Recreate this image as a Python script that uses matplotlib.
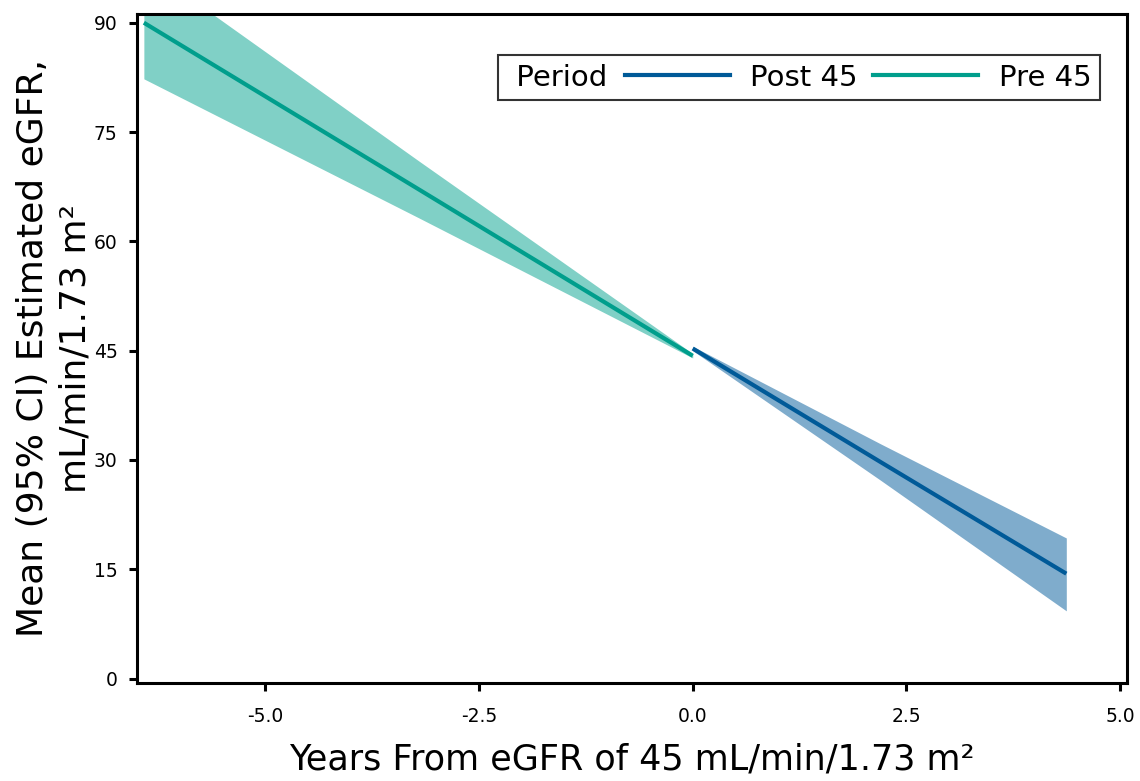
import numpy as np
import matplotlib.pyplot as plt
from matplotlib.lines import Line2D
from matplotlib.offsetbox import HPacker

# Pre 45 period (years before eGFR 45)
pre_x = [-6.42, -3.2, 0.0]
pre_mean = [90.0, 67.1, 44.3]
pre_lo = [82.3, 63.2, 44.0]
pre_hi = [97.9, 71.0, 44.6]

# Post 45 period
post_x = [0.0, 2.2, 4.37]
post_mean = [45.3, 29.7, 14.4]
post_lo = [45.0, 27.2, 9.3]
post_hi = [45.6, 32.2, 19.3]

xticks = [-5.0, -2.5, 0.0, 2.5, 5.0]
yticks = [0, 15, 30, 45, 60, 75, 90]

pre_color = '#009e8c'
pre_fill = '#80d0c6'
post_color = '#005a98'
post_fill = '#7faccc'

fig = plt.figure(figsize=(11.4, 7.81), dpi=100)
ax = fig.add_axes([0.1202, 0.1255, 0.8684, 0.8566])

ax.fill_between(pre_x, pre_lo, pre_hi, color=pre_fill, lw=0)
ax.fill_between(post_x, post_lo, post_hi, color=post_fill, lw=0)
ax.plot(pre_x, pre_mean, color=pre_color, lw=3.0, solid_capstyle='butt')
ax.plot(post_x, post_mean, color=post_color, lw=3.0, solid_capstyle='butt')

ax.set_xlim(-6.5, 5.08)
ax.set_ylim(-0.6, 91.2)
ax.set_xticks(xticks)
ax.set_xticklabels(['%.1f' % t for t in xticks])
ax.set_yticks(yticks)
ax.tick_params(labelsize=13.5, width=2.2, length=6)
ax.tick_params(axis='x', pad=11)
ax.tick_params(axis='y', pad=8)
for s in ax.spines.values():
    s.set_linewidth(2.2)

ax.set_xlabel('Years From eGFR of 45 mL/min/1.73 m²', fontsize=25.2, labelpad=12)
ax.set_ylabel('Mean (95% CI) Estimated eGFR,\nmL/min/1.73 m²', fontsize=26,
              labelpad=1, linespacing=1.3)

fs = 21
handles = [Line2D([], [], color=post_color, lw=3.0),
           Line2D([], [], color=pre_color, lw=3.0)]
leg = ax.legend(handles, ['Post 45', 'Pre 45'], ncol=2, title=' Period',
                fontsize=fs, title_fontsize=fs, loc='upper right',
                bbox_to_anchor=(0.973, 0.939), borderaxespad=0, fancybox=False,
                edgecolor='black', handlelength=3.6, handletextpad=0.7,
                columnspacing=0.55, borderpad=0.3)
leg.get_frame().set_linewidth(1.5)
# put the legend title on the same row as the entries
leg._legend_box = HPacker(pad=0.3 * fs, sep=0.6 * fs,
                          children=[leg._legend_title_box, leg._legend_handle_box],
                          align='center')
leg._legend_box.set_figure(fig)
leg._legend_box.axes = ax
leg._legend_box.set_offset(leg._findoffset)

fig.savefig('out.png', dpi=100)
